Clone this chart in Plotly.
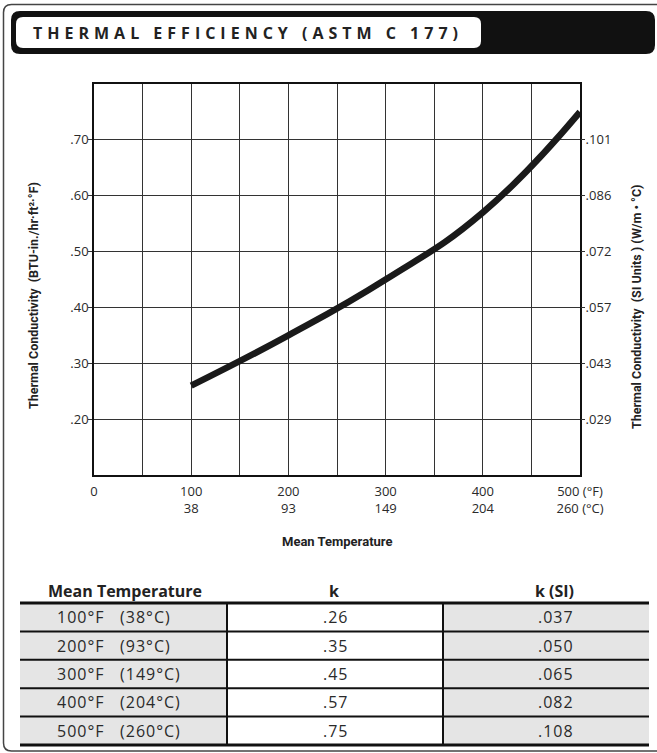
import plotly.graph_objects as go

# ---------------- data ----------------
temps_f = [100, 200, 300, 400, 500]
temps_c = [38, 93, 149, 204, 260]
k_values = [0.26, 0.35, 0.45, 0.57, 0.75]
k_labels = [".26", ".35", ".45", ".57", ".75"]
k_si_labels = [".037", ".050", ".065", ".082", ".108"]

x_tickvals = [0, 100, 200, 300, 400, 500]
x_ticktext = ["0", "100<br>38", "200<br>93", "300<br>149", "400<br>204", "500 (°F)<br>260 (°C)"]
y_tickvals = [0.2, 0.3, 0.4, 0.5, 0.6, 0.7]
y_ticktext = [".20", ".30", ".40", ".50", ".60", ".70"]
y2_ticktext = [".029", ".043", ".057", ".072", ".086", ".101"]

title_text = "THERMAL EFFICIENCY (ASTM C 177)"
x_title = "Mean Temperature"
y_title = "Thermal Conductivity  (BTU-in./hr·ft²·°F)"
y2_title = "Thermal Conductivity  (SI Units ) (W/m • °C)"
table_headers = ["Mean Temperature", "k", "k (SI)"]

# ---------------- geometry ----------------
W, H = 657, 753
L, R, T, B = 94, 77, 84, 278
PW, PH = W - L - R, H - T - B


def px(x):
    return (x - L) / PW


def py(y):
    return (H - B - y) / PH


def rrect(x0, y0, x1, y1, r):
    return (f"M {px(x0 + r)},{py(y0)} L {px(x1 - r)},{py(y0)} "
            f"Q {px(x1)},{py(y0)} {px(x1)},{py(y0 + r)} L {px(x1)},{py(y1 - r)} "
            f"Q {px(x1)},{py(y1)} {px(x1 - r)},{py(y1)} L {px(x0 + r)},{py(y1)} "
            f"Q {px(x0)},{py(y1)} {px(x0)},{py(y1 - r)} L {px(x0)},{py(y0 + r)} "
            f"Q {px(x0)},{py(y0)} {px(x0 + r)},{py(y0)} Z")


TXT = "#2a2a2a"
FONT = "Open Sans"
BOLD = "Roboto"

fig = go.Figure()
fig.add_trace(go.Scatter(
    x=temps_f, y=k_values, mode="lines",
    line=dict(color="#1a1a1a", width=6.5, shape="spline", smoothing=1.3),
    hoverinfo="skip", showlegend=False))
fig.add_trace(go.Scatter(
    x=temps_f, y=k_values, mode="lines", yaxis="y2",
    line=dict(color="rgba(0,0,0,0)", width=0),
    hoverinfo="skip", showlegend=False))

axis_common = dict(showline=True, linecolor="#111", linewidth=1.5, mirror=True,
                   zeroline=False)

fig.update_layout(
    width=W, height=H,
    margin=dict(l=L, r=R, t=T, b=B, pad=0),
    paper_bgcolor="white", plot_bgcolor="white",
    showlegend=False,
    xaxis=dict(range=[0, 500], tickvals=x_tickvals, ticktext=x_ticktext,
               showgrid=True, gridcolor="#333", gridwidth=1,
               minor=dict(dtick=50, showgrid=True, gridcolor="#333", gridwidth=1),
               ticks="", ticklabelstandoff=4,
               tickfont=dict(family=FONT, size=13, color=TXT),
               **axis_common),
    yaxis=dict(range=[0.1, 0.8], tickvals=y_tickvals, ticktext=y_ticktext,
               showgrid=True, gridcolor="#333", gridwidth=1,
               ticks="outside", ticklen=4, tickcolor="#333", tickwidth=1,
               ticklabelstandoff=-3,
               tickfont=dict(family=FONT, size=13, color=TXT),
               **axis_common),
    yaxis2=dict(range=[0.1, 0.8], tickvals=y_tickvals, ticktext=y2_ticktext,
                overlaying="y", side="right", showgrid=False, zeroline=False,
                showline=False,
                ticks="outside", ticklen=4, tickcolor="#333", tickwidth=1,
                ticklabelstandoff=-2,
                tickfont=dict(family=FONT, size=13, color=TXT)),
)

shapes = []
annots = []

# page border
r = 8
shapes.append(dict(
    type="path", xref="paper", yref="paper",
    path=(f"M {px(670)},{py(4.5)} L {px(3.5 + r)},{py(4.5)} "
          f"Q {px(3.5)},{py(4.5)} {px(3.5)},{py(4.5 + r)} L {px(3.5)},{py(751 - r)} "
          f"Q {px(3.5)},{py(751)} {px(3.5 + r)},{py(751)} L {px(670)},{py(751)}"),
    line=dict(color="#444", width=1.5), fillcolor="rgba(0,0,0,0)"))

# title bar
shapes.append(dict(type="path", xref="paper", yref="paper",
                   path=rrect(11, 11, 655, 54, 9), fillcolor="#111",
                   line=dict(width=0)))
shapes.append(dict(type="path", xref="paper", yref="paper",
                   path=rrect(16, 17, 481, 48, 7), fillcolor="white",
                   line=dict(width=0)))
annots.append(dict(
    xref="paper", yref="paper", x=px(31), y=py(33), xanchor="left", yanchor="middle",
    text=f"<span style='letter-spacing:5px'>{title_text}</span>", showarrow=False,
    font=dict(family=FONT, size=16, color="#222", weight="bold")))

# axis titles
annots.append(dict(xref="paper", yref="paper", x=px(337), y=py(541),
                   xanchor="center", yanchor="middle", text=x_title, showarrow=False,
                   font=dict(family=BOLD, size=13, color="#222", weight="bold")))
annots.append(dict(xref="paper", yref="paper", x=px(33), y=py(296),
                   xanchor="center", yanchor="middle", textangle=-90, text=y_title,
                   showarrow=False,
                   font=dict(family=BOLD, size=12.5, color="#222", weight="bold")))
annots.append(dict(xref="paper", yref="paper", x=px(636), y=py(307),
                   xanchor="center", yanchor="middle", textangle=-90, text=y2_title,
                   showarrow=False,
                   font=dict(family=BOLD, size=12.5, color="#222", weight="bold")))

# table
col_edges = [20, 227, 443, 649]
head_y = 591
line_head = 603
row_h = 28.4
n = len(temps_f)
row_tops = [line_head + i * row_h for i in range(n)]
table_bottom = line_head + n * row_h

for ci in (0, 2):
    shapes.append(dict(type="rect", xref="paper", yref="paper",
                       x0=px(col_edges[ci]), x1=px(col_edges[ci + 1]),
                       y0=py(line_head), y1=py(table_bottom),
                       fillcolor="#e5e5e5", line=dict(width=0)))
for i in range(1, n):
    yy = row_tops[i]
    shapes.append(dict(type="line", xref="paper", yref="paper",
                       x0=px(col_edges[0]), x1=px(col_edges[-1]), y0=py(yy), y1=py(yy),
                       line=dict(color="#111", width=2)))
for yy in (line_head, table_bottom):
    shapes.append(dict(type="line", xref="paper", yref="paper",
                       x0=px(col_edges[0]), x1=px(col_edges[-1]), y0=py(yy), y1=py(yy),
                       line=dict(color="#111", width=3)))
for xx in col_edges[1:3]:
    shapes.append(dict(type="line", xref="paper", yref="paper",
                       x0=px(xx), x1=px(xx), y0=py(line_head), y1=py(table_bottom),
                       line=dict(color="#111", width=2)))

head_x = [125, 334, 554]
for hx, ht in zip(head_x, table_headers):
    annots.append(dict(xref="paper", yref="paper", x=px(hx), y=py(head_y),
                       xanchor="center", yanchor="middle", text=ht, showarrow=False,
                       font=dict(family=FONT, size=16, color="#222", weight="bold")))

cell_font = dict(family=FONT, size=16, color=TXT)
for i in range(n):
    cy = row_tops[i] + row_h / 2
    annots.append(dict(xref="paper", yref="paper", x=px(55), y=py(cy),
                       xanchor="left", yanchor="middle", showarrow=False,
                       text=("<span style='letter-spacing:1px'>"
                             f"{temps_f[i]}°F\u00a0\u00a0\u00a0({temps_c[i]}°C)</span>"),
                       font=cell_font))
    annots.append(dict(xref="paper", yref="paper", x=px(336), y=py(cy),
                       xanchor="center", yanchor="middle", showarrow=False,
                       text=f"<span style='letter-spacing:1px'>{k_labels[i]}</span>",
                       font=cell_font))
    annots.append(dict(xref="paper", yref="paper", x=px(556), y=py(cy),
                       xanchor="center", yanchor="middle", showarrow=False,
                       text=f"<span style='letter-spacing:1px'>{k_si_labels[i]}</span>",
                       font=cell_font))

fig.update_layout(shapes=shapes, annotations=annots)
fig.write_html("out.html",
               config={"displayModeBar": False},
               post_script="document.body.style.margin='0';document.body.style.padding='0';")
